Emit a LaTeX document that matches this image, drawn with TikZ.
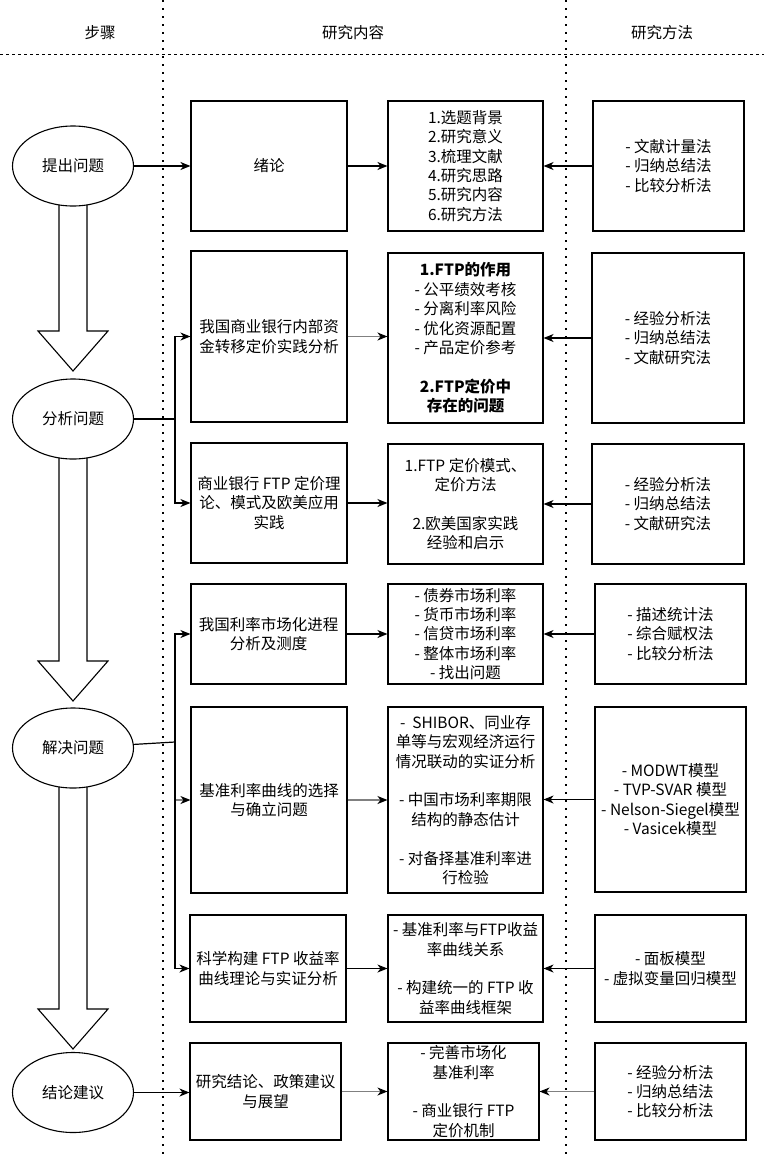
\documentclass[tikz,border=0pt]{standalone}
\usepackage{fontspec}
\setmainfont{Noto Sans CJK SC}
\usetikzlibrary{arrows.meta,shapes.geometric}
\definecolor{lg}{HTML}{808080}
\begin{document}
\begin{tikzpicture}[x=1pt,y=-1pt,
  txt/.style={font=\fontsize{15.5}{19.4}\selectfont},
  box/.style={txt, draw, line width=1.1pt, fill=white, inner sep=0pt, align=center},
  ell/.style={txt, draw, line width=1.1pt, fill=white, ellipse, inner sep=0pt, minimum width=121pt, minimum height=80pt},
  hdr/.style={txt},
  dotline/.style={line width=1.6pt, dash pattern=on 1.6pt off 6.4pt},
  dashline/.style={line width=1pt, dash pattern=on 3pt off 3pt},
  bigarr/.style={draw, line width=1.1pt, fill=white, line join=miter},
  arr/.style={line width=1.2pt, -{Stealth[length=10pt,width=8pt,inset=3pt,color=black]}},
  garr/.style={arr, draw=lg},
  plain/.style={line width=1.2pt}
]
\useasboundingbox (0,0) rectangle (764,1160);
% guide lines
\draw[dotline] (163,0) -- (163,1160);
\draw[dotline] (566,0) -- (566,1160);
\draw[dashline] (0,54) -- (764,54);
% headers
\node[hdr] (h1) at (100,33) {步骤};
\node[hdr] (h2) at (353,33) {研究内容};
\node[hdr] (h3) at (662,33) {研究方法};
% big block arrows
\draw[bigarr] (59,198) -- (59,331) -- (38,331) -- (73,371) -- (108,331) -- (87,331) -- (87,198) -- cycle;
\draw[bigarr] (59,452) -- (59,661) -- (38,661) -- (73,701) -- (108,661) -- (87,661) -- (87,452) -- cycle;
\draw[bigarr] (59,782) -- (59,1009) -- (38,1009) -- (73,1049) -- (108,1009) -- (87,1009) -- (87,782) -- cycle;
% step ellipses
\node[ell] (e1) at (73,166) {提出问题};
\node[ell] (e2) at (73,419) {分析问题};
\node[ell] (e3) at (73,748) {解决问题};
\node[ell] (e4) at (73,1092.5) {结论建议};
% research content boxes (left)
\node[box, minimum width=156pt, minimum height=130pt] (a1) at (269,166) {绪论};
\node[box, minimum width=156pt, minimum height=171pt] (a2) at (269,336.5) {我国商业银行内部资\\金转移定价实践分析};
\node[box, minimum width=156pt, minimum height=120pt] (a3) at (269,503) {商业银行 FTP 定价理\\论、模式及欧美应用\\实践};
\node[box, minimum width=155pt, minimum height=100pt] (a4) at (268.5,634) {我国利率市场化进程\\分析及测度};
\node[box, minimum width=156pt, minimum height=186pt] (a5) at (269,800) {基准利率曲线的选择\\与确立问题};
\node[box, minimum width=156pt, minimum height=107pt] (a6) at (268,968.5) {科学构建 FTP 收益率\\曲线理论与实证分析};
\node[box, minimum width=151pt, minimum height=97pt] (a7) at (265.5,1091.5) {研究结论、政策建议\\与展望};
% research content boxes (details)
\node[box, minimum width=155pt, minimum height=130pt] (c1) at (465.5,166) {1.选题背景\\2.研究意义\\3.梳理文献\\4.研究思路\\5.研究内容\\6.研究方法};
\node[box, minimum width=155pt, minimum height=170pt] (c2) at (465.5,338) {\textbf{1.FTP的作用}\\- 公平绩效考核\\- 分离利率风险\\- 优化资源配置\\- 产品定价参考\\[19.4pt]\textbf{2.FTP定价中}\\\textbf{存在的问题}};
\node[box, minimum width=155pt, minimum height=120pt] (c3) at (465.5,504) {1.FTP 定价模式、\\定价方法\\[19.4pt]2.欧美国家实践\\经验和启示};
\node[box, minimum width=155pt, minimum height=100pt] (c4) at (465.5,634) {- 债券市场利率\\- 货币市场利率\\- 信贷市场利率\\- 整体市场利率\\- 找出问题};
\node[box, minimum width=155pt, minimum height=186pt] (c5) at (465.5,800) {-~ SHIBOR、同业存\\单等与宏观经济运行\\情况联动的实证分析\\[19.4pt]- 中国市场利率期限\\结构的静态估计\\[19.4pt]- 对备择基准利率进\\行检验};
\node[box, minimum width=155pt, minimum height=107pt] (c6) at (465.5,968.5) {- 基准利率与FTP收益\\率曲线关系\\[19.4pt]- 构建统一的 FTP 收\\益率曲线框架};
\node[box, minimum width=151pt, minimum height=97pt] (c7) at (463.5,1091.5) {- 完善市场化\\基准利率\\[19.4pt]- 商业银行 FTP\\定价机制};
% method boxes
\node[box, minimum width=151pt, minimum height=130pt] (m1) at (668.5,166) {- 文献计量法\\- 归纳总结法\\- 比较分析法};
\node[box, minimum width=152pt, minimum height=170pt] (m2) at (668,338) {- 经验分析法\\- 归纳总结法\\- 文献研究法};
\node[box, minimum width=152pt, minimum height=120pt] (m3) at (668,504) {- 经验分析法\\- 归纳总结法\\- 文献研究法};
\node[box, minimum width=151pt, minimum height=100pt] (m4) at (670.5,634) {- 描述统计法\\- 综合赋权法\\- 比较分析法};
\node[box, minimum width=151pt, minimum height=185pt] (m5) at (670.5,799.5) {- MODWT模型\\- TVP-SVAR 模型\\- Nelson-Siegel模型\\- Vasicek模型};
\node[box, minimum width=151pt, minimum height=107pt] (m6) at (670.5,968.5) {- 面板模型\\- 虚拟变量回归模型};
\node[box, minimum width=151pt, minimum height=97pt] (m7) at (670.5,1091.5) {- 经验分析法\\- 归纳总结法\\- 比较分析法};
% junctions
\coordinate (j2) at (175,419);
\coordinate (j3) at (175,742);
% connectors: steps to content
\draw[arr] (e1.east) -- (a1.west);
\draw[plain] (e2.east) -- (j2);
\draw[arr] (j2) |- (a2.west);
\draw[arr] (j2) |- (a3.west);
\draw[plain] (e3) -- (j3);
\draw[arr] (j3) |- (a4.west);
\draw[garr] (j3) |- (a5.west);
\draw[arr] (j3) |- (a6.west);
\draw[arr] (e4.east) -- (a7.west |- e4.east);
% content to details
\draw[arr] (a1.east) -- (c1.west |- a1.east);
\draw[garr] (a2.east) -- (c2.west |- a2.east);
\draw[arr] (a3.east) -- (c3.west |- a3.east);
\draw[arr] (a4.east) -- (c4.west |- a4.east);
\draw[garr] (a5.east) -- (c5.west |- a5.east);
\draw[arr] (a6.east) -- (c6.west |- a6.east);
\draw[garr] (a7.east) -- (c7.west |- a7.east);
% methods to details
\draw[arr] (m1.west) -- (c1.east |- m1.west);
\draw[arr] (m2.west) -- (c2.east |- m2.west);
\draw[arr] (m3.west) -- (c3.east |- m3.west);
\draw[arr] (m4.west) -- (c4.east |- m4.west);
\draw[arr] (m5.west) -- (c5.east |- m5.west);
\draw[arr] (m6.west) -- (c6.east |- m6.west);
\draw[garr] (m7.west) -- (c7.east |- m7.west);
\end{tikzpicture}
\end{document}
